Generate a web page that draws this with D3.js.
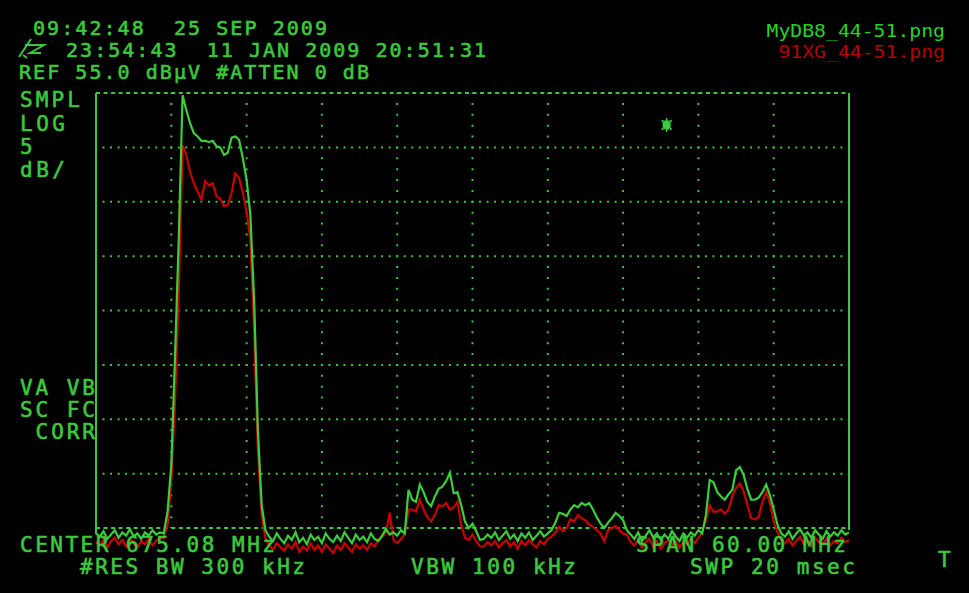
<!DOCTYPE html>
<html><head><meta charset="utf-8">
<script src="https://cdn.jsdelivr.net/npm/d3@7"></script>
<style>html,body{margin:0;padding:0;background:#000;overflow:hidden}svg{display:block}</style>
</head><body>
<svg id="c" width="969" height="593"></svg>
<script>
// ---- data ----
const centerFreq = 675.08;      // MHz
const spanFreq = 60.0;          // MHz
const refLevel = 55.0;          // dBuV
const dbPerDiv = 5;
const xDivs = 10, yDivs = 8;
const stepFreq = 0.3;           // MHz between trace points (201 points)

const greenTrace = [
 14.5,14.2,14.7,14.0,14.4,14.8,14.1,14.6,14.3,14.9,14.2,14.5,14.0,14.6,14.3,14.8,14.4,14.6,
 14.5,16.5,20.8,30.9,41.9,54.8,53.4,52.2,51.3,51.0,50.6,50.6,50.5,50.6,50.1,50.0,49.3,49.5,50.9,51.0,50.7,49.0,47.0,43.8,36.0,24.0,17.1,14.8,
 14.2,13.8,14.5,14.0,13.6,14.3,13.9,14.6,13.7,14.1,13.5,14.4,13.9,14.2,13.6,14.5,14.0,13.7,14.3,13.8,14.6,14.1,13.6,14.4,13.9,14.2,13.7,14.5,14.0,13.8,14.3,14.9,14.4,
 14.6,14.3,14.8,14.5,
 18.5,17.6,17.4,19.0,18.3,17.4,17.0,17.9,18.6,18.8,19.3,20.1,18.2,18.3,17.1,15.6,15.0,15.4,14.7,13.9,14.0,14.4,
 14.1,14.6,13.9,14.3,14.7,14.0,14.4,13.8,14.5,14.1,14.6,13.9,14.3,14.7,14.2,14.5,14.8,
 15.5,16.4,16.3,16.1,16.7,17.1,16.9,17.3,17.1,17.3,16.7,16.0,15.4,15.0,15.5,15.9,16.4,16.1,15.7,14.8,14.4,
 14.0,14.6,13.8,14.3,14.8,14.1,14.5,13.9,14.4,14.0,14.7,14.2,13.8,14.5,14.1,14.6,14.3,14.8,14.5,
 16.2,19.4,19.2,18.3,17.9,17.6,18.1,18.5,20.3,20.6,19.9,18.6,17.6,17.6,17.8,18.3,19.0,18.0,16.7,15.3,14.5,
 14.2,14.7,14.0,14.5,14.9,14.3,14.6,14.1,14.8,14.4,14.0,14.7,14.2,14.6,14.3,14.8,14.4,14.6
];
const redTrace = [
 13.7,13.4,13.9,13.2,13.8,14.1,13.5,13.9,13.3,14.0,13.6,13.2,13.8,13.5,14.0,13.4,13.8,14.1,
 14.1,15.3,19.4,26.8,36.9,50.2,49.3,47.7,46.7,45.9,45.2,46.9,46.5,46.7,45.5,45.3,44.6,44.7,45.8,47.6,47.2,45.8,44.1,41.5,33.2,22.2,16.2,14.1,
 13.4,13.0,13.6,13.2,12.9,13.5,13.1,13.7,12.8,13.3,12.9,13.6,13.0,13.4,12.8,13.5,13.1,12.7,13.4,13.0,13.6,13.2,12.8,13.5,13.1,13.4,13.0,13.6,13.3,13.9,14.2,14.6,16.4,
 13.9,13.6,14.0,14.4,
 16.7,16.7,16.5,17.6,16.7,16.0,15.6,16.2,17.1,17.0,17.3,16.7,16.9,17.4,15.3,14.1,13.9,14.4,13.8,13.3,13.3,13.7,
 13.4,13.8,13.2,13.6,13.9,13.3,13.7,13.1,13.8,13.4,13.9,13.5,13.2,13.8,13.5,14.0,14.2,
 14.6,15.1,14.7,15.0,15.8,15.6,16.2,15.9,15.7,15.3,15.1,14.8,14.5,13.8,14.8,15.0,15.2,14.8,14.5,14.4,13.7,
 13.4,13.9,13.2,13.7,14.0,13.3,13.8,13.1,13.6,13.9,13.4,13.8,13.2,13.7,13.5,14.0,13.6,14.1,14.6,
 15.7,17.1,16.5,16.5,16.7,16.3,16.7,17.9,18.7,19.1,18.4,17.1,15.9,15.8,16.0,17.4,18.3,17.3,15.6,14.6,13.9,
 13.6,14.0,13.4,13.8,14.2,13.5,13.9,13.3,14.1,13.7,13.5,14.0,13.4,13.8,13.6,14.1,13.7,13.9
];

const headerLines = ["09:42:48  25 SEP 2009", "23:54:43  11 JAN 2009 20:51:31", "REF 55.0 dB\u00b5V #ATTEN 0 dB"];
const leftLabelsTop = ["SMPL", "LOG", "5", "dB/"];
const leftLabelsMid = ["VA VB", "SC FC", " CORR"];
const bottomLabels = ["CENTER 675.08 MHz", "#RES BW 300 kHz", "VBW 100 kHz", "SPAN 60.00 MHz", "SWP 20 msec"];
const cornerLabel = "T";
const legendNames = ["MyDB8_44-51.png", "91XG_44-51.png"];
const markerFreq = 690.55, markerDb = 52.06;

// ---- drawing ----
const W = 969, H = 593;
const svg = d3.select("#c");
svg.append("rect").attr("width", W).attr("height", H).attr("fill", "#000");

const gridGreen = "#3cc83c";
const traceGreen = "#3ccc3c";
const traceRed = "#c80000";
const mono = "'DejaVu Sans Mono', 'Liberation Mono', monospace";

const startFreq = centerFreq - spanFreq / 2;
const x = d3.scaleLinear().domain([startFreq, startFreq + spanFreq]).range([96, 849]);
const y = d3.scaleLinear().domain([refLevel - yDivs * dbPerDiv, refLevel]).range([528, 93]);
const [x0, x1] = x.range();
const [yb, yt] = y.range();
const xDiv = (x1 - x0) / xDivs, yDiv = (yb - yt) / yDivs;

const grid = svg.append("g");
d3.range(1, xDivs).forEach(k => {
  const f = startFreq + k * spanFreq / xDivs;
  grid.append("line").attr("x1", x(f)).attr("x2", x(f)).attr("y1", yt).attr("y2", yb)
    .attr("stroke", gridGreen).attr("stroke-width", 2)
    .attr("stroke-dasharray", `2 ${yDiv / 5 - 2}`).attr("stroke-dashoffset", 1);
});
d3.range(1, yDivs).forEach(k => {
  const v = refLevel - k * dbPerDiv;
  grid.append("line").attr("x1", x0).attr("x2", x1).attr("y1", y(v)).attr("y2", y(v))
    .attr("stroke", gridGreen).attr("stroke-width", 2)
    .attr("stroke-dasharray", `2 ${xDiv / 10 - 2}`).attr("stroke-dashoffset", -(xDiv / 10 - 1));
});
[refLevel, refLevel - yDivs * dbPerDiv].forEach(v => {
  grid.append("line").attr("x1", x0).attr("x2", x1).attr("y1", y(v)).attr("y2", y(v))
    .attr("stroke", gridGreen).attr("stroke-width", 2)
    .attr("stroke-dasharray", `4 ${xDiv / 10 - 4}`);
});
grid.append("line").attr("x1", x0).attr("x2", x0).attr("y1", yt).attr("y2", yb + 6)
  .attr("stroke", gridGreen).attr("stroke-width", 2);
grid.append("line").attr("x1", x1).attr("x2", x1).attr("y1", yt).attr("y2", yb + 2)
  .attr("stroke", gridGreen).attr("stroke-width", 2);

// traces
const lineGen = d3.line().x((d, i) => x(startFreq + i * stepFreq)).y(d => y(d));
svg.append("path").attr("d", lineGen(redTrace)).attr("fill", "none")
  .attr("stroke", traceRed).attr("stroke-width", 2.2).attr("stroke-linejoin", "miter");
svg.append("path").attr("d", lineGen(greenTrace)).attr("fill", "none")
  .attr("stroke", traceGreen).attr("stroke-width", 2.2).attr("stroke-linejoin", "miter");

// marker asterisk
const mx = x(markerFreq), my = y(markerDb);
const mk = svg.append("g").attr("transform", `translate(${mx},${my})`).attr("fill", traceGreen);
mk.append("rect").attr("x", -0.75).attr("y", -7).attr("width", 1.5).attr("height", 14);
mk.append("rect").attr("x", -4).attr("y", -3).attr("width", 8).attr("height", 6);
mk.append("rect").attr("x", -2.5).attr("y", -4.5).attr("width", 5).attr("height", 9);
[[-5, -5], [3, -5], [-5, 3], [3, 3]].forEach(p =>
  mk.append("rect").attr("x", p[0]).attr("y", p[1]).attr("width", 2).attr("height", 2));

// text helper
function txt(s, px, py, adv, size, color) {
  return svg.append("text").text(s).attr("x", px).attr("y", py)
    .attr("font-family", mono).attr("font-size", size).attr("fill", color)
    .attr("stroke", color).attr("stroke-width", 0.6)
    .attr("textLength", s.length * adv).attr("lengthAdjust", "spacing")
    .style("white-space", "pre");
}

// header
txt(headerLines[0], 33, 35, 14, 20, gridGreen);
txt(headerLines[1], 66, 57, 14, 20, gridGreen);
txt(headerLines[2], 19, 79, 14, 20, gridGreen);
svg.append("path").attr("d", "M19,57 L31,39 M25,45 L44,45 L30,53 L41,53 M23,55 L27,58")
  .attr("fill", "none").attr("stroke", gridGreen).attr("stroke-width", 2);

// left labels
const topYs = [107, 131, 154, 177];
leftLabelsTop.forEach((s, i) => txt(s, 20, topYs[i], 15, 21, gridGreen));
const midYs = [395, 417, 439];
leftLabelsMid.forEach((s, i) => txt(s, 20, midYs[i], 15, 21, gridGreen));

// bottom labels
const bPos = [[20, 552], [80, 574], [411, 574], [636, 552], [690, 574]];
bottomLabels.forEach((s, i) => txt(s, bPos[i][0], bPos[i][1], 15, 21, gridGreen));
txt(cornerLabel, 938, 567, 15, 21, gridGreen);

// legend
const legColors = ["#22d422", "#b80000"];
legendNames.forEach((s, i) => svg.append("text").text(s).attr("x", 945).attr("y", 37 + i * 21)
  .attr("text-anchor", "end").attr("font-family", mono).attr("font-size", 18)
  .attr("textLength", s.length * 11.9).attr("lengthAdjust", "spacingAndGlyphs")
  .attr("fill", legColors[i]));
</script>
</body></html>
